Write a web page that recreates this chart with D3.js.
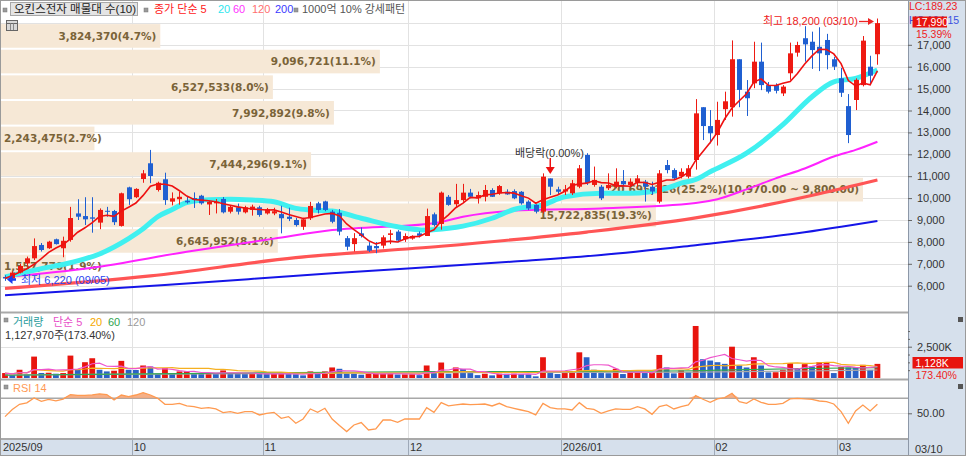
<!DOCTYPE html>
<html><head><meta charset="utf-8">
<script src="https://cdn.jsdelivr.net/npm/d3@7"></script>
<style>
html,body{margin:0;padding:0;background:#fff;}
svg{display:block;font-family:"Liberation Sans","Noto Sans CJK KR",sans-serif;}
</style></head><body>
<svg id="c" width="966" height="456"></svg>
<script>
// ---------------- DATA ----------------
const dates = [
"09/05","09/08","09/09","09/10","09/11","09/12","09/15","09/16","09/17","09/18","09/19","09/22","09/23","09/24","09/25","09/26","09/29","09/30",
"10/01","10/02","10/10","10/13","10/14","10/15","10/16","10/17","10/20","10/21","10/22","10/23","10/24","10/27","10/28","10/29","10/30","10/31",
"11/03","11/04","11/05","11/06","11/07","11/10","11/11","11/12","11/13","11/14","11/17","11/18","11/19","11/20","11/21","11/24","11/25","11/26","11/27","11/28",
"12/01","12/02","12/03","12/04","12/05","12/08","12/09","12/10","12/11","12/12","12/15","12/16","12/17","12/18","12/19","12/22","12/23","12/24","12/26","12/29","12/30",
"01/02","01/05","01/06","01/07","01/08","01/09","01/12","01/13","01/14","01/15","01/16","01/19","01/20","01/21","01/22","01/23","01/26","01/27","01/28","01/29","01/30",
"02/02","02/03","02/04","02/05","02/06","02/09","02/10","02/11","02/12","02/13","02/19","02/20","02/23","02/24","02/25","02/26","02/27",
"03/03","03/04","03/05","03/06","03/09","03/10"];

const opens = [6400,6330,6600,7020,7250,7860,7710,8120,7710,8090,9300,9180,9120,8880,9420,9410,8730,10490,10040,10870,11590,10370,
10860,9840,9950,9880,10000,10110,9710,9760,9960,9380,9580,9350,9460,9580,9300,9300,9270,9150,9000,8690,9080,9760,9850,9380,
9330,8170,7900,8390,7830,7810,7830,8320,8470,8120,8150,8390,8270,9260,8820,10060,9720,9910,10250,9990,10060,10370,10220,10290,
10320,10290,9840,9690,9380,10900,10400,10300,10220,10520,11970,10600,10520,10450,10520,10780,10600,10700,10750,10520,9840,11510,
11280,11000,10980,11740,14150,13290,12880,14060,14150,16340,14860,15240,16230,15160,15160,14780,15700,16640,17300,17140,16910,
17220,16340,15470,14200,14480,15160,16000,16570];
const highs = [6480,6650,7000,7330,8160,7950,8050,8150,8240,9600,9950,10040,10040,9530,9600,9460,10250,10520,10450,11280,12200,10750,
11160,10260,10290,10050,10260,10150,9860,9960,10050,9680,9750,9650,9700,9650,9550,9560,9650,9560,9100,9100,9830,9830,9880,9460,
9500,8270,8400,8660,7990,7990,8300,8550,8540,8390,8300,8480,9520,9340,10300,10140,10650,10650,10420,10300,10600,10450,10600,10400,
10400,10320,9900,9720,11130,10900,10520,10600,10830,11510,12050,11440,10600,11130,11360,11280,10900,11050,10830,10750,11280,11740,
11360,11360,11510,14520,14150,14020,14400,14860,17200,16340,15390,17140,17100,15300,15240,15160,17100,17140,17850,17600,17800,
17500,16450,15940,14750,15470,17400,16500,18200];
const lows = [6220,6300,6560,6870,7170,7560,7680,7880,7300,8010,9000,8770,8420,8580,9150,8770,8700,9690,10000,10700,10680,10300,
9690,9670,9700,9750,9550,9700,9230,9300,9300,9300,9250,9300,9200,9150,9250,9220,8390,8950,8700,8550,9000,9300,9400,8850,
8300,7620,7560,8200,7540,7480,7700,7900,7980,8000,8100,8200,8270,8700,8560,9650,9600,9830,9990,9750,9850,10050,10150,10150,
9950,9700,9450,9300,9300,10140,10140,10140,10140,10450,10600,10520,9910,10370,10450,10520,10500,10520,9840,10150,9760,11130,
10830,10900,10900,11300,12650,12500,12400,13570,13720,14150,13750,15020,14930,14780,14780,14660,15400,16460,16230,15900,15800,
15880,15850,14620,12510,14020,15100,15160,16090];
const closes = [6330,6600,6900,7250,7810,7630,8010,7900,8050,9090,9150,9030,9060,9460,9380,8900,10220,9950,10420,11130,11010,10700,
9910,9990,10060,9810,9920,9760,9830,9830,9350,9600,9380,9580,9610,9230,9490,9400,9080,9050,8770,9030,9640,9460,9460,8920,
8470,7780,8170,8270,7600,7710,8210,8390,8060,8270,8270,8280,9180,8770,10250,9690,9910,10250,10060,10140,10370,10060,10550,10170,
9990,9760,9530,9380,10980,10520,10290,10400,10680,11360,10680,10830,9990,10600,10750,10630,10750,10900,10520,10300,11130,11280,
10900,11200,11360,13870,13290,12960,13570,14420,16340,14940,14560,16230,15160,14860,14900,15090,16610,16990,17020,16760,16610,
16530,16000,14810,12880,15400,17190,15590,17990];

// volume in thousand shares
const volumes = [395,263,658,316,1710,400,420,342,395,1790,658,1262,1578,658,526,580,1368,658,640,1000,920,342,
789,395,526,540,395,342,350,330,605,395,342,316,342,330,316,320,342,316,300,210,526,342,526,842,
736,368,342,263,330,345,360,375,280,290,300,230,1000,395,1236,342,842,710,395,230,342,210,342,330,
342,316,300,131,1657,395,316,395,526,2051,1657,658,395,380,736,316,473,480,395,420,1841,842,
368,605,473,4155,1500,1394,1262,1131,2500,1000,842,1657,1000,447,460,658,1184,789,1105,920,1262,
1280,395,868,842,830,1052,650.5,1127.97];

const rsi14 = [45.6,55,62,64,70.5,66,68.5,66.5,69,75,74,74,74.5,76,75,67.8,74.4,72.2,74.4,77.6,74.4,70,
62,62,63.3,59.8,58.9,56.7,57.6,55.8,50.9,52.2,50,52.2,52.2,47.8,50,51.3,43.3,45.6,36.7,42.4,55.8,51.3,56.7,42.4,
33.6,25.6,34.4,37.6,27.8,29.1,41.1,41.1,38,42.4,42.4,42.4,57.6,51.3,64.2,59.8,61.1,62.4,61.6,62,62.4,59.8,63.3,58.9,
56.7,54.4,52.2,47.8,63.3,57.6,55.8,55.8,54.4,64.2,56.7,55.3,50,53.1,55.8,55.3,55.3,58.9,55.8,48.7,58.9,61.1,
55.8,58.9,61.1,73.6,68.7,64.7,69.1,70.9,76.7,65.6,63.3,69.1,64.7,62,62,63.3,69.1,70,69.1,68.7,66.4,
65.6,62.4,52.2,36.7,53.1,61.1,53.1,62];

// moving averages (index, value)
const ma20Idx = [0,5,9,13,17,19,21,23,25,28,31,34,37,40,42,45,49,54,58,61,63,67,70,74,77,82,86,91,93,95,97,102,107,111,114,117,120];
const ma20Val = [6400,6780,7050,7450,8150,8600,9150,9480,9800,9930,9950,9910,9830,9530,9460,9410,9080,8690,8540,8620,8720,9080,9480,9690,10060,10220,10220,10450,10680,10850,11200,12050,13350,14630,15310,15470,15850];
const ma60Idx = [0,12,25,37,45,59,63,71,82,95,98,102,106,110,114,117,120];
const ma60Val = [6400,6820,7550,8150,8540,8850,9150,9440,9530,9780,9950,10400,10900,11350,11900,12200,12575];
const ma120Idx = [0,20,40,60,80,95,105,112,120];
const ma120Val = [5880,6450,7280,7800,8450,9100,9700,10200,10830];
const ma200Idx = [0,22,45,70,82,95,109,120];
const ma200Val = [5560,6030,6570,7100,7400,7850,8390,8950];
const volMa60Idx = [0,20,40,60,80,95,100,110,120];
const volMa60Val = [220,330,430,520,520,580,650,760,830];
const volMa120Idx = [0,60,95,110,120];
const volMa120Val = [250,430,470,560,640];

// volume profile (매물대)
const bandEdges = [6290,7460,8630,9800,10970,12140,13310,14480,15650,16820,17990];
const bandVols = [1557770,6645952,15722835,20695226,7444296,2243475,7992892,6527533,9096721,3824370];
const bandPct = [1.9,8.1,19.3,25.2,9.1,2.7,9.8,8.0,11.1,4.7];

const priceTicks = [6000,7000,8000,9000,10000,11000,12000,13000,14000,15000,16000,17000];
const priceGrid = [6000,7000,8000,9000,10000,11000,12000,13000,14000,15000,16000,17000,18000];
const monthStarts = ["09/05","10/01","11/03","12/01","01/02","02/02","03/03"];
const monthLabels = ["2025/09","10","11","12","2026/01","02","03"];

// ---------------- DRAW ----------------
const svg = d3.select("#c");
const W = 966, H = 456, PR = 908;
const n = dates.length;
const RED = "#ee1a12", BLUE = "#1f5fd1";
const x = d3.scaleBand().domain(d3.range(n)).range([1.37, 1.37 + n * 7.27]);
const cx = i => x(i) + x.bandwidth() / 2;
const yP = d3.scaleLinear().domain([6000, 17000]).range([285.7, 44.8]);
const yV = d3.scaleLinear().domain([0, 2500]).range([378, 346.7]);
const yR = d3.scaleLinear().domain([50, 70]).range([413.3, 398.3]);
const monthIdx = monthStarts.map(d => dates.indexOf(d));

svg.append("rect").attr("width", W).attr("height", H).attr("fill", "#fff");
svg.append("rect").attr("x", PR).attr("y", 0).attr("width", W - PR).attr("height", 440).attr("fill", "#d6e0ec");
svg.append("rect").attr("x", 0).attr("y", 440).attr("width", W).attr("height", 16).attr("fill", "#d6e0ec");

// grid
const grid = svg.append("g").attr("stroke", "#e2e2e2").attr("stroke-width", 1);
priceGrid.forEach(v => grid.append("line").attr("x1", 1).attr("x2", PR).attr("y1", Math.round(yP(v)) + 0.5).attr("y2", Math.round(yP(v)) + 0.5));
grid.append("line").attr("x1", 1).attr("x2", PR).attr("y1", Math.round(yV(2500)) + 0.5).attr("y2", Math.round(yV(2500)) + 0.5);
grid.append("line").attr("x1", 1).attr("x2", PR).attr("y1", Math.round(yR(50)) + 0.5).attr("y2", Math.round(yR(50)) + 0.5);
monthIdx.slice(1).forEach(i => grid.append("line").attr("x1", Math.round(x(i)) + 0.5).attr("x2", Math.round(x(i)) + 0.5).attr("y1", 0).attr("y2", 439));
svg.append("line").attr("x1", 1).attr("x2", PR).attr("y1", yR(70)).attr("y2", yR(70)).attr("stroke", "#a8a8a8").attr("stroke-width", 1.6);

// volume profile bands
const xB = d3.scaleLinear().domain([0, d3.max(bandVols)]).range([0, 862]);
const bandG = svg.append("g");
const maxBand = bandVols.indexOf(d3.max(bandVols));
bandVols.forEach((v, i) => {
  const yTop = yP(bandEdges[i + 1]), yBot = yP(bandEdges[i]);
  bandG.append("rect").attr("x", 1).attr("y", yTop + 1).attr("width", xB(v)).attr("height", yBot - yTop - 2).attr("fill", "#f6e8d6");
});
bandVols.forEach((v, i) => {
  const yTop = yP(bandEdges[i + 1]), yBot = yP(bandEdges[i]);
  let label = d3.format(",")(v) + "(" + bandPct[i].toFixed(1) + "%)";
  if (i === maxBand) label += "(" + d3.format(",.2f")(bandEdges[i + 1]) + " ~ " + d3.format(",.2f")(bandEdges[i]) + ")";
  const t = bandG.append("text").attr("y", (yTop + yBot) / 2 + 3.8).attr("font-size", 10.5).attr("font-weight", "bold")
    .attr("font-family", "DejaVu Sans").attr("fill", "#7a6338").text(label);
  const tw = t.node().getComputedTextLength();
  const right = xB(v) - 3;
  t.attr("x", Math.max(4, right - tw));
});

// moving average lines (below candles)
function sampled(idx, val) { return idx.map((k, j) => [k, val[j]]); }
const lineP = d3.line().x(d => cx(d[0])).y(d => yP(d[1])).curve(d3.curveMonotoneX);
svg.append("path").attr("d", lineP(sampled(ma200Idx, ma200Val))).attr("fill", "none").attr("stroke", "#1515e8").attr("stroke-width", 2);
svg.append("path").attr("d", lineP(sampled(ma120Idx, ma120Val))).attr("fill", "none").attr("stroke", "#ff5555").attr("stroke-width", 3.2);
svg.append("path").attr("d", lineP(sampled(ma60Idx, ma60Val))).attr("fill", "none").attr("stroke", "#ff22ff").attr("stroke-width", 2);
svg.append("path").attr("d", lineP(sampled(ma20Idx, ma20Val))).attr("fill", "none").attr("stroke", "#40f0f0").attr("stroke-width", 5);

// candles
const cg = svg.append("g");
d3.range(n).forEach(i => {
  const up = closes[i] >= opens[i];
  const col = up ? RED : BLUE;
  const xc = Math.round(cx(i)) + 0.5;
  cg.append("line").attr("x1", xc).attr("x2", xc).attr("y1", yP(highs[i])).attr("y2", yP(lows[i])).attr("stroke", col).attr("stroke-width", 1);
  const y1 = yP(Math.max(opens[i], closes[i])), y2 = yP(Math.min(opens[i], closes[i]));
  cg.append("rect").attr("x", xc - 2.5).attr("y", y1).attr("width", 5).attr("height", Math.max(1, y2 - y1)).attr("fill", col);
});

// MA5 computed from closes
const ma5 = d3.range(n).map(i => [i, d3.mean(closes.slice(Math.max(0, i - 4), i + 1))]);
svg.append("path").attr("d", d3.line().x(d => cx(d[0])).y(d => yP(d[1]))(ma5)).attr("fill", "none").attr("stroke", "#ee1111").attr("stroke-width", 1.6);

// annotations
const iMax = highs.indexOf(d3.max(highs)), iMin = lows.indexOf(d3.min(lows));
svg.append("text").attr("x", 763).attr("y", 25).attr("font-size", 11).attr("fill", "#ee2222")
  .text("최고 " + d3.format(",")(highs[iMax]) + " (" + dates[iMax] + ")");
svg.append("line").attr("x1", 859).attr("x2", 869).attr("y1", 21.5).attr("y2", 21.5).attr("stroke", "#ee2222").attr("stroke-width", 1.3);
svg.append("path").attr("d", "M868,18 L874,21.5 L868,25 Z").attr("fill", "#ee2222");
svg.append("path").attr("d", "M7,279.5 L12.5,275 L12.5,284 Z M12,278.3 H16 V280.7 H12 Z").attr("fill", "#1b3cf0");
svg.append("text").attr("x", 21).attr("y", 284).attr("font-size", 11).attr("fill", "#2a45f0")
  .text("최저 " + d3.format(",")(lows[iMin]) + " (" + dates[iMin] + ")");
const iDiv = dates.indexOf("12/29");
svg.append("text").attr("x", 515).attr("y", 156.5).attr("font-size", 11).attr("fill", "#333").text("배당락(0.00%)");
svg.append("line").attr("x1", cx(iDiv)).attr("x2", cx(iDiv)).attr("y1", 158).attr("y2", 168).attr("stroke", "#ee1111").attr("stroke-width", 1.5);
svg.append("path").attr("d", `M${cx(iDiv) - 4.5},167 L${cx(iDiv) + 4.5},167 L${cx(iDiv)},174 Z`).attr("fill", "#ee1111");

// volume bars
const vg = svg.append("g");
d3.range(n).forEach(i => {
  const up = i === 0 ? true : volumes[i] > volumes[i - 1];
  vg.append("rect").attr("x", cx(i) - 2.9).attr("y", yV(volumes[i])).attr("width", 5.8).attr("height", yV(0) - yV(volumes[i]))
    .attr("fill", up ? "#e8140e" : "#2b62c6");
});
const lineV = d3.line().x(d => cx(d[0])).y(d => yV(d[1]));
const vma = k => d3.range(n).map(i => [i, d3.mean(volumes.slice(Math.max(0, i - k + 1), i + 1))]);
svg.append("path").attr("d", lineV.curve(d3.curveMonotoneX)(sampled(volMa120Idx, volMa120Val))).attr("fill", "none").attr("stroke", "#a8a8a8").attr("stroke-width", 1.2);
svg.append("path").attr("d", lineV.curve(d3.curveMonotoneX)(sampled(volMa60Idx, volMa60Val))).attr("fill", "none").attr("stroke", "#33a852").attr("stroke-width", 1.2);
svg.append("path").attr("d", lineV.curve(d3.curveLinear)(vma(20))).attr("fill", "none").attr("stroke", "#f5b021").attr("stroke-width", 1.2);
svg.append("path").attr("d", lineV.curve(d3.curveLinear)(vma(5))).attr("fill", "none").attr("stroke", "#ee55cc").attr("stroke-width", 1.2);

// RSI
const rsiPts = rsi14.map((v, i) => [i, v]);
svg.append("path").attr("d", d3.area().x(d => cx(d[0])).y0(yR(70)).y1(d => yR(Math.max(70, d[1])))(rsiPts))
  .attr("fill", "#f3a273").attr("opacity", 0.85);
svg.append("path").attr("d", d3.line().x(d => cx(d[0])).y(d => yR(d[1]))(rsiPts)).attr("fill", "none").attr("stroke", "#ff9a50").attr("stroke-width", 1.3);

// panel separators & borders
[[312.5, 2], [379.5, 2], [439, 2]].forEach(([yy, w]) => svg.append("line").attr("x1", 0).attr("x2", PR).attr("y1", yy).attr("y2", yy).attr("stroke", "#a9a9a9").attr("stroke-width", w));
svg.append("line").attr("x1", PR + 0.5).attr("x2", PR + 0.5).attr("y1", 0).attr("y2", H).attr("stroke", "#8d98a8");
monthIdx.slice(1).forEach(i => svg.append("line").attr("x1", Math.round(x(i)) + 0.5).attr("x2", Math.round(x(i)) + 0.5).attr("y1", 440).attr("y2", H).attr("stroke", "#9ea9b8"));
svg.append("rect").attr("x", 0.5).attr("y", 0.5).attr("width", W - 1).attr("height", H - 1).attr("fill", "none").attr("stroke", "#9a9a9a");

// axes
function styleAxis(g) {
  g.select(".domain").remove();
  g.selectAll("line").attr("stroke", "#666");
  g.selectAll("text").attr("fill", "#333").attr("font-size", 11).attr("font-family", "Liberation Sans");
}
svg.append("g").attr("transform", `translate(${PR},0)`)
  .call(d3.axisRight(yP).tickValues(priceTicks).tickSize(4).tickPadding(5).tickFormat(d3.format(","))).call(styleAxis);
svg.append("g").attr("transform", `translate(${PR},0)`)
  .call(d3.axisRight(yV).tickValues([625, 1250, 1875, 3125, 3750]).tickSize(2).tickFormat("")).call(styleAxis);
svg.append("g").attr("transform", `translate(${PR},0)`)
  .call(d3.axisRight(yV).tickValues([2500]).tickSize(4).tickPadding(5).tickFormat(d => d3.format(",")(d) + "K")).call(styleAxis);
svg.append("g").attr("transform", `translate(${PR},0)`)
  .call(d3.axisRight(yR).tickValues([50]).tickSize(4).tickPadding(5).tickFormat(d => d.toFixed(2))).call(styleAxis);
const xAxis = svg.append("g").attr("transform", "translate(0,441)")
  .call(d3.axisBottom(x).tickValues(monthIdx).tickSize(0).tickPadding(2).tickFormat((d, k) => monthLabels[k]));
xAxis.select(".domain").remove();
xAxis.selectAll("text").attr("text-anchor", "start").attr("dx", -x.bandwidth() / 2 + 1.5).attr("fill", "#333").attr("font-size", 11).attr("font-family", "Liberation Sans");
svg.append("text").attr("x", 915).attr("y", 453).attr("font-size", 11).attr("fill", "#333").text(dates[n - 1]);

// right-side markers
svg.append("text").attr("x", 909).attr("y", 9.8).attr("font-size", 10.5).attr("fill", "#ee2222").text("LC:189.23");
svg.append("text").attr("x", 909).attr("y", 23.5).attr("font-size", 10.5).attr("fill", "#3a50e0").text("HC:194.15");
svg.append("rect").attr("x", 912.5).attr("y", 16.5).attr("width", 34.5).attr("height", 11).attr("fill", "#e8140e");
svg.append("text").attr("x", 916).attr("y", 25.8).attr("font-size", 10.5).attr("fill", "#fff").text(d3.format(",")(closes[n - 1]));
svg.append("text").attr("x", 916).attr("y", 37.6).attr("font-size", 10.5).attr("fill", "#ee2222")
  .text(((closes[n - 1] / closes[n - 2] - 1) * 100).toFixed(2) + "%");
const vLast = volumes[n - 1], vRatio = volumes[n - 1] / volumes[n - 2] * 100;
svg.append("rect").attr("x", 912.5).attr("y", 357).attr("width", 50.5).attr("height", 11.5).attr("fill", "#e8140e");
svg.append("text").attr("x", 915.5).attr("y", 366.5).attr("font-size", 10.5).attr("fill", "#fff").text(d3.format(",")(Math.round(vLast)) + "K");
svg.append("text").attr("x", 915.5).attr("y", 378.6).attr("font-size", 10.5).attr("fill", "#ee2222").text(vRatio.toFixed(2) + "%");
[[958, 317], [958, 384]].forEach(([a, b]) => {
  svg.append("rect").attr("x", a).attr("y", b).attr("width", 5).attr("height", 5).attr("fill", "#555");
});

// legends
const sq = (a, b) => svg.append("rect").attr("x", a).attr("y", b).attr("width", 4).attr("height", 4).attr("fill", "#9a9a9a").attr("stroke", "#777").attr("stroke-width", 0.5);
sq(3, 8); sq(144, 8); sq(294, 8); sq(4, 318); sq(4, 385);
svg.append("rect").attr("x", 10.5).attr("y", 2.5).attr("width", 127).attr("height", 13).attr("fill", "#e4e4e4").attr("stroke", "#a8a8a8");
svg.append("text").attr("x", 14).attr("y", 13.3).attr("font-size", 11.5).attr("fill", "#222").text("오킨스전자 매물대 수(10)");
[["종가 단순 5", 154, "#ff2020"], ["20", 218, "#2ee6ee"], ["60", 233, "#ff33ff"], ["120", 252, "#ff7070"], ["200", 275, "#3a3aff"], ["1000억 10% 강세패턴", 302, "#555"]]
  .forEach(([t, a, c]) => svg.append("text").attr("x", a).attr("y", 13.3).attr("font-size", 11).attr("fill", c).text(t));
const ic = svg.append("g");
ic.append("rect").attr("x", 6.5).attr("y", 20.5).attr("width", 11).attr("height", 10).attr("fill", "#d8d8d8").attr("stroke", "#666");
ic.append("line").attr("x1", 7).attr("x2", 17).attr("y1", 23.5).attr("y2", 23.5).attr("stroke", "#666");
ic.append("line").attr("x1", 10.5).attr("x2", 10.5).attr("y1", 23.5).attr("y2", 30).attr("stroke", "#888");
ic.append("line").attr("x1", 13.5).attr("x2", 13.5).attr("y1", 23.5).attr("y2", 30).attr("stroke", "#888");
[["거래량", 13, "#2a9d9d"], ["단순 5", 53, "#e84fc8"], ["20", 90, "#f5a800"], ["60", 108, "#2fa44f"], ["120", 127, "#9a9a9a"]]
  .forEach(([t, a, c]) => svg.append("text").attr("x", a).attr("y", 326).attr("font-size", 11).attr("fill", c).text(t));
svg.append("text").attr("x", 5).attr("y", 338.5).attr("font-size", 11).attr("fill", "#333")
  .text(d3.format(",")(Math.round(vLast * 1000)) + "주(" + vRatio.toFixed(2) + "%)");
svg.append("text").attr("x", 13).attr("y", 392).attr("font-size", 11).attr("fill", "#ff9955").text("RSI 14");
</script>
</body></html>
